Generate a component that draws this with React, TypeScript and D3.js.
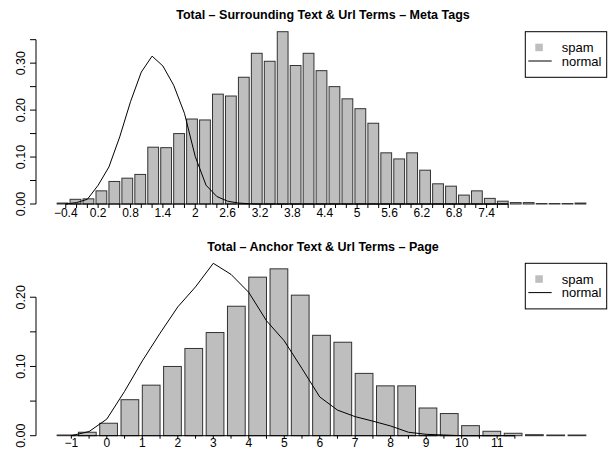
import React, { useEffect, useRef } from "react";
import * as d3 from "d3";

// histogram breaks
const metaBreaks = [-0.4, -0.2, 0, 0.2, 0.4, 0.6, 0.8, 1, 1.2, 1.4, 1.6, 1.8, 2, 2.2, 2.4, 2.6, 2.8, 3, 3.2, 3.4, 3.6,
  3.8, 4, 4.2, 4.4, 4.6, 4.8, 5, 5.2, 5.4, 5.6, 5.8, 6, 6.2, 6.4, 6.6, 6.8, 7, 7.2, 7.4, 7.6, 7.8];
const pageBreaks = [-1, -0.5, 0, 0.5, 1, 1.5, 2, 2.5, 3, 3.5, 4, 4.5, 5, 5.5, 6, 6.5, 7, 7.5, 8, 8.5, 9, 9.5, 10,
  10.5, 11, 11.5];

// spam densities (bars)
const metaSpam = [0.002, 0.01, 0.011, 0.028, 0.048, 0.055, 0.063, 0.121, 0.12, 0.15, 0.181, 0.179, 0.234, 0.23,
  0.27, 0.321, 0.304, 0.367, 0.295, 0.321, 0.284, 0.25, 0.224, 0.203, 0.172, 0.109, 0.096, 0.109, 0.072, 0.043,
  0.038, 0.019, 0.028, 0.012, 0.006, 0.003, 0.003, 0.001, 0.001, 0.001, 0.002];
const pageSpam = [0.001, 0.005, 0.018, 0.052, 0.073, 0.1, 0.126, 0.149, 0.187, 0.229, 0.241, 0.203, 0.145, 0.135,
  0.09, 0.072, 0.072, 0.04, 0.032, 0.0145, 0.0064, 0.0035, 0.0015, 0.001, 0.001];

// normal densities (line), one per break
const metaNormal = [0, 0.003, 0.01, 0.04, 0.079, 0.143, 0.218, 0.281, 0.315, 0.294, 0.253, 0.193, 0.101, 0.04,
  0.016, 0.006, 0.002, 0.0005, 0, 0, 0, 0, 0, 0, 0, 0, 0, 0, 0, 0, 0, 0, 0, 0, 0, 0, 0, 0, 0, 0, 0, 0];
const pageNormal = [0, 0.006, 0.024, 0.064, 0.108, 0.148, 0.186, 0.215, 0.249, 0.233, 0.207, 0.166, 0.137, 0.097,
  0.056, 0.037, 0.0275, 0.021, 0.014, 0.005, 0.002, 0.001, 0, 0, 0, 0];

const metaYTicks = [0, 0.05, 0.1, 0.15, 0.2, 0.25, 0.3, 0.35];
const pageYTicks = [0, 0.05, 0.1, 0.15, 0.2];

const W = 611;
const H = 450;
const left = 36;
const right = 607;
const font = "'Liberation Sans', Arial, Helvetica, sans-serif";

function drawPanel(svg, o) {
  const n = o.spam.length;
  const lo = 0.2, hi = 1.2 * n;
  const pad = 0.04 * (hi - lo);
  const x = d3.scaleLinear().domain([lo - pad, hi + pad]).range([left, right]);
  const ymax = Math.max(d3.max(o.spam), d3.max(o.normal));
  const y = d3.scaleLinear().domain([0, ymax]).range([o.bottom, o.top]);

  const g = svg.append("g");

  // title
  g.append("text")
    .attr("x", 323).attr("y", o.titleY)
    .attr("text-anchor", "middle")
    .style("font-weight", "bold").style("font-size", "12.5px")
    .text(o.title);

  // bars
  g.selectAll(".bar").data(o.spam).enter().append("rect")
    .attr("x", (d, i) => x(0.2 + 1.2 * i))
    .attr("width", x(1) - x(0))
    .attr("y", d => y(d))
    .attr("height", d => y(0) - y(d))
    .attr("fill", "#bebebe")
    .attr("stroke", "#333")
    .attr("stroke-width", 1);

  // normal density line at tick positions 1..k
  const line = d3.line().x((d, i) => x(i + 1)).y(d => y(d));
  g.append("path").attr("d", line(o.normal))
    .attr("fill", "none").attr("stroke", "#000").attr("stroke-width", 1);

  // x axis
  const xa = g.append("g");
  xa.append("line")
    .attr("x1", x(1)).attr("x2", x(o.breaks.length))
    .attr("y1", o.bottom).attr("y2", o.bottom)
    .attr("stroke", "#000");
  o.breaks.forEach((b, i) => {
    xa.append("line")
      .attr("x1", x(i + 1)).attr("x2", x(i + 1))
      .attr("y1", o.bottom).attr("y2", o.bottom + o.tick)
      .attr("stroke", "#000");
    if (i % o.every === 0) {
      xa.append("text")
        .attr("x", x(i + 1)).attr("y", o.bottom + o.labelGap)
        .attr("text-anchor", "middle").style("font-size", "12px")
        .text(String(b).replace("-", "\u2212"));
    }
  });

  // y axis
  const ya = g.append("g");
  const yt = o.yTicks;
  ya.append("line")
    .attr("x1", left).attr("x2", left)
    .attr("y1", y(yt[0])).attr("y2", y(yt[yt.length - 1]))
    .attr("stroke", "#000");
  yt.forEach((t, i) => {
    ya.append("line")
      .attr("x1", left - 6).attr("x2", left)
      .attr("y1", y(t)).attr("y2", y(t))
      .attr("stroke", "#000");
    if (i % 2 === 0) {
      ya.append("text")
        .attr("transform", `translate(25,${y(t)}) rotate(-90)`)
        .attr("text-anchor", "middle").style("font-size", "12.5px")
        .text(t.toFixed(2));
    }
  });

  // legend, top right of the plot region
  const lg = g.append("g").attr("transform", `translate(525.3,${o.top})`);
  lg.append("rect").attr("width", 81.4).attr("height", 45.6)
    .attr("fill", "#fff").attr("stroke", "#000");
  lg.append("rect").attr("x", 10).attr("y", 12).attr("width", 7.5).attr("height", 7.5)
    .attr("fill", "#bebebe");
  lg.append("line").attr("x1", 3).attr("x2", 26.4).attr("y1", 29.3).attr("y2", 29.3)
    .attr("stroke", "#000");
  lg.append("text").attr("x", 36.4).attr("y", 15.7).attr("dy", "0.35em")
    .style("font-size", "13px").text("spam");
  lg.append("text").attr("x", 36.4).attr("y", 29.3).attr("dy", "0.35em")
    .style("font-size", "13px").text("normal");
}

export default function App() {
  const ref = useRef(null);

  useEffect(() => {
    const svg = d3.select(ref.current);
    svg.selectAll("*").remove();
    drawPanel(svg, {
      title: "Total \u2013 Surrounding Text & Url Terms \u2013 Meta Tags",
      breaks: metaBreaks, spam: metaSpam, normal: metaNormal, yTicks: metaYTicks,
      top: 31.7, bottom: 204, titleY: 19, every: 3, tick: 4, labelGap: 13,
    });
    drawPanel(svg, {
      title: "Total \u2013 Anchor Text & Url Terms \u2013 Page",
      breaks: pageBreaks, spam: pageSpam, normal: pageNormal, yTicks: pageYTicks,
      top: 263.3, bottom: 435.7, titleY: 251, every: 2, tick: 3, labelGap: 11.5,
    });
  }, []);

  return (
    <div style={{ position: "fixed", left: 0, top: 0 }}>
      <svg ref={ref} width={W} height={H} style={{ display: "block", background: "#fff", fontFamily: font }} />
    </div>
  );
}
